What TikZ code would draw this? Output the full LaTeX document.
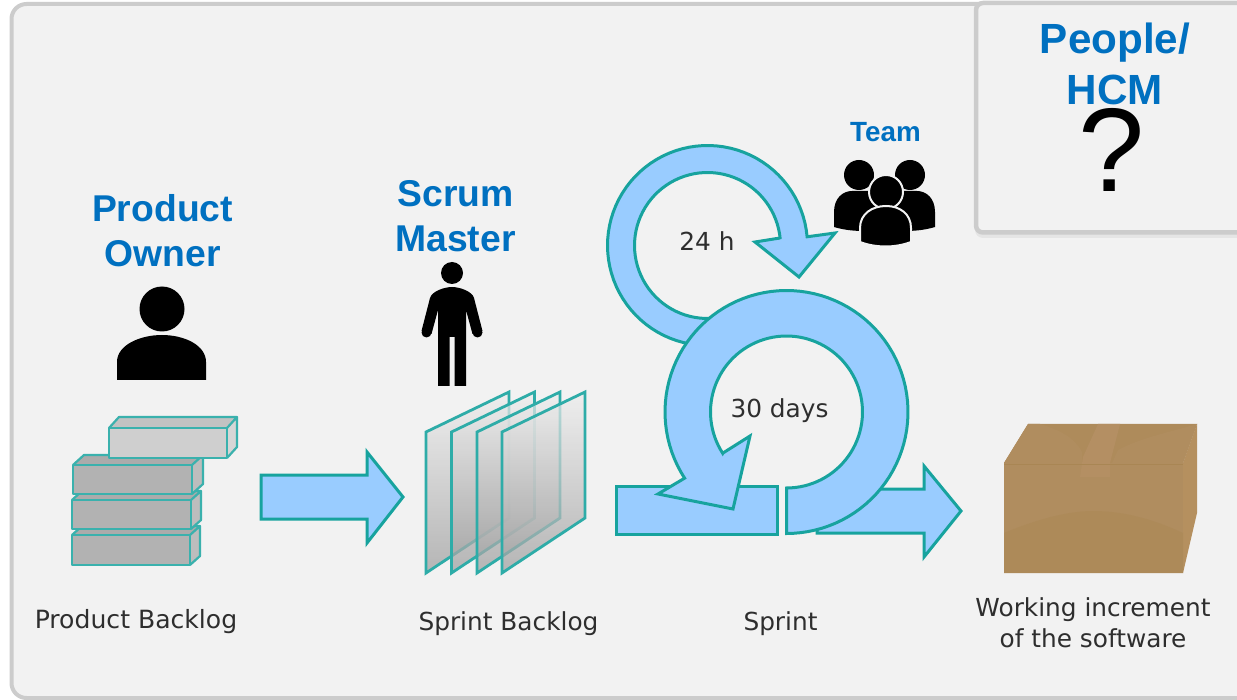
\documentclass[tikz,border=0pt]{standalone}
\usepackage{fontspec}
\setmainfont{Liberation Sans}
\newfontfamily\djv{DejaVu Sans}
\definecolor{panel}{HTML}{F2F2F2}
\definecolor{edge}{HTML}{CCCCCC}
\definecolor{teal}{HTML}{17A39E}
\definecolor{sky}{HTML}{99CCFF}
\definecolor{roleblue}{HTML}{0070C0}
\definecolor{cardA}{HTML}{B08D5F}
\definecolor{cardB}{HTML}{AD8A59}
\definecolor{cardC}{HTML}{AE8B5B}
\definecolor{cardD}{HTML}{B5905F}
\definecolor{tape}{HTML}{B48F63}
\definecolor{darkline}{HTML}{A98654}
\tikzset{
  x=1pt,y=-1pt,
  flow/.style={draw=teal,fill=sky,line width=3pt,line join=miter,miter limit=6},
  role/.style={text=roleblue,font=\bfseries\fontsize{37.3}{45}\selectfont,align=center},
  legend/.style={text=black!82,font=\djv\fontsize{24.8}{31}\selectfont,align=center},
  sheet/.style={draw=teal!90!white,line width=2.8pt,top color=white!93!black,bottom color=black!38,fill opacity=.72,line join=miter},
  icon/.style={fill=black,draw=none},
  halo/.style={fill=black,draw=panel,line width=2pt},
}
% brick: x y w h dx dy, front colour, top colour, side colour
\newcommand\brickshape[9]{%
  \fill[#8] (#1,#2) -- ++(#5,-#6) -- ++(#3,0) -- ++(-#5,#6) -- cycle;
  \fill[#9] (#1+#3,#2) -- ++(#5,-#6) -- ++(0,#4) -- ++(-#5,#6) -- cycle;
  \draw[draw=teal!85!white,fill=#7,line width=2.2pt,line join=round] (#1,#2) rectangle ++(#3,#4);
  \draw[draw=teal!85!white,line width=2.2pt,line join=round] (#1,#2) -- ++(#5,-#6) -- ++(#3,0) -- ++(-#5,#6)
     ++(#5,-#6) -- ++(0,#4) -- ++(-#5,#6);
}
\begin{document}
\begin{tikzpicture}
\useasboundingbox (0,0) rectangle (1237,700);
\clip (0,0) rectangle (1237,700);
\fill[white] (0,0) rectangle (1237,700);
% outer panel
\draw[draw=edge,fill=panel,line width=4pt,rounded corners=15pt] (11.5,4) rectangle (1260,698);
% people panel
\fill[black,opacity=.05,rounded corners=8pt] (975,6) rectangle (1260,238);
\draw[draw=edge,fill=panel,line width=4.5pt,rounded corners=7pt] (976,3) rectangle (1260,232.5);

% bricks
\brickshape{72}{535}{118}{30}{10}{9}{black!30}{black!33}{black!26}
\brickshape{72}{500}{119}{29}{10}{9}{black!30}{black!33}{black!26}
\brickshape{73}{465}{119}{29}{11}{10}{black!30}{black!33}{black!26}
\brickshape{109}{428}{118}{30}{10}{11}{black!19}{black!24}{black!16}

% arrow 1
\draw[flow] (261,475) -- (367,475) -- (367,452) -- (403,497) -- (367,543) -- (367,519) -- (261,519) -- cycle;

% sheets
\foreach \sx in {426,451.5,477,502}{
  \draw[sheet] (\sx,432) -- (\sx+83,392) -- (\sx+83,518) -- (\sx,573) -- cycle;
}

% small cycle
\draw[flow] plot[domain=80:355,samples=70] ({707.5+100*cos(\x)},{245.5+100*sin(\x)})
  -- (835,233) -- (799,277) -- (755,242) -- (780,238)
  -- plot[domain=355:80,samples=70] ({707.5+73*cos(\x)},{245.5+73*sin(\x)}) -- cycle;

% out arrow, sprint bar
\draw[flow] (817,489) -- (924,489) -- (924,466) -- (961,511) -- (924,557) -- (924,533) -- (817,533) -- cycle;
\draw[flow] (616,486) rectangle (777,534);

% big cycle
\draw[flow] plot[domain=90:-213,samples=90] ({786.5+121.5*cos(\x)},{412+121.5*sin(\x)})
  -- (658,494) -- (733,509) -- (750,436) -- (723,453)
  -- plot[domain=-213:90,samples=90] ({786.5+76*cos(\x)},{412+76*sin(\x)}) -- cycle;

% product owner icon
\fill[icon] (162,309) circle[radius=22.5];
\fill[icon] (117,380) -- (117,362) .. controls (117,345) and (140,335) .. (162,335)
   .. controls (184,335) and (206,345) .. (206,362) -- (206,380) -- cycle;

% scrum master icon
\fill[icon] (452,273) circle[radius=11];
\fill[icon] (426.5,332.5) circle[radius=5];
\fill[icon] (477.5,332.5) circle[radius=5];
\fill[icon] (438,386) -- (438,310) -- (431.5,334) -- (421.5,331)
   -- (430,298) .. controls (432,291) and (445,287) .. (452,287)
   .. controls (459,287) and (472,291) .. (474,298) -- (482.5,331) -- (472.5,334) -- (466,310) -- (466,386)
   -- (454.5,386) -- (454.5,337) -- (449.5,337) -- (449.5,386) -- cycle;

% team icon
\fill[icon] (859,175) circle[radius=15];
\fill[icon] (910,175) circle[radius=15];
\fill[icon] (834,227) -- (834,212) .. controls (834,198) and (843,191) .. (852,191)
  -- (917,191) .. controls (926,191) and (935,198) .. (935,212) -- (935,227)
  .. controls (925,230) and (915,231) .. (905,231) -- (864,231) .. controls (854,231) and (844,230) .. (834,227) -- cycle;
\filldraw[halo] (886,192) circle[radius=17];
\filldraw[halo] (860,242) -- (860,228) .. controls (860,214) and (872,206) .. (886,206)
  .. controls (900,206) and (911,214) .. (911,228) -- (911,242) .. controls (895,248) and (876,248) .. (860,242) -- cycle;

% box
\fill[cardC] (1004,463) -- (1028,424) -- (1197,424) -- (1183,463) -- cycle;
\fill[cardD] (1183,463) -- (1197,424) -- (1197,513) -- (1183,573) -- cycle;
\fill[cardA] (1004,463) rectangle (1183,573);
\fill[cardB] (1004,533) .. controls (1040,518) and (1070,511) .. (1093,511)
   .. controls (1125,511) and (1155,520) .. (1183,533) -- (1183,573) -- (1004,573) -- cycle;
\fill[cardA] (1004,463) -- (1028,424) -- (1040,424) .. controls (1060,430) and (1075,438) .. (1082,452) -- (1082,463) -- cycle;
\fill[cardA] (1112,463) -- (1118,450) .. controls (1140,438) and (1170,432) .. (1197,424) -- (1183,463) -- cycle;
\fill[tape] (1098,424) -- (1120,424) -- (1110,463) -- (1110,477) -- (1080,477) -- (1083,457) -- cycle;
\draw[darkline,line width=1pt] (1004,464) -- (1183,464);

% labels
\node[role] (po) at (162.5,231) {Product\\Owner};
\node[role] (sm) at (455.5,216.5) {Scrum\\Master};
\node[role,font=\bfseries\fontsize{27.8}{32}\selectfont] (team) at (885.5,132) {Team};
\node[role,font=\bfseries\fontsize{42.2}{51}\selectfont] (people) at (1115,63.5) {People/\\HCM};
\node[font=\fontsize{119}{119}\selectfont,anchor=base,text=black] (q) at (1112,192) {?};
\node[legend] (c24) at (707,241) {24 h};
\node[legend] (c30) at (779.5,411) {30 days};
\node[legend,font=\djv\fontsize{25.1}{31}\selectfont] (pb) at (136,622) {Product Backlog};
\node[legend] (sb) at (508.5,624) {Sprint Backlog};
\node[legend] (sp) at (780.5,624) {Sprint};
\node[legend] (wi) at (1093,623) {Working increment\\of the software};
\end{tikzpicture}
\end{document}
